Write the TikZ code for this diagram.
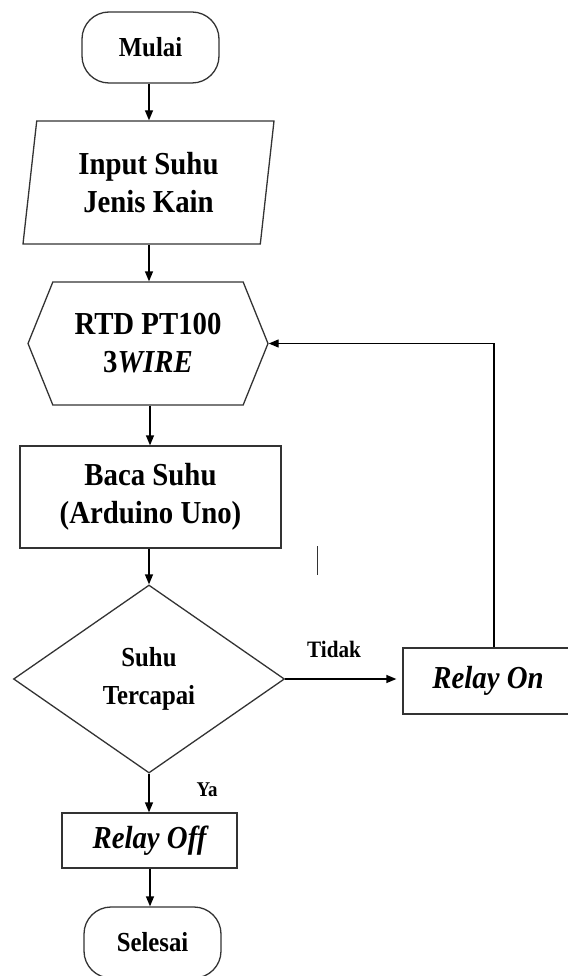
\documentclass[tikz,border=0pt]{standalone}
\usepackage{fontspec}
\setmainfont{Liberation Serif}[FakeStretch=0.9]
\usetikzlibrary{shapes.geometric,shapes.symbols,arrows.meta}

\begin{document}
\begin{tikzpicture}[x=1pt, y=-1pt, line width=1.3pt, >={Triangle[length=10pt,width=8pt]},
  box/.style={draw=black!80, align=center, inner sep=2pt, font=\bfseries\fontsize{32}{38}\selectfont},
  terminal/.style={box, rounded corners=27pt, minimum width=137pt, minimum height=71pt, font=\bfseries\fontsize{27.5}{30}\selectfont},
  iobox/.style={box, trapezium, trapezium left angle=78, trapezium right angle=102, trapezium stretches body, minimum width=251pt, minimum height=123pt},
  prepbox/.style={box, signal, signal to=east and west, signal pointer angle=136, minimum width=240pt, minimum height=123pt},
  process/.style={box, rectangle},
  decision/.style={box, diamond, aspect=1.44, inner sep=0pt, minimum width=271pt, minimum height=188pt, font=\bfseries\fontsize{27.5}{38}\selectfont},
  relay/.style={process, font=\bfseries\itshape\fontsize{32}{34}\selectfont},
  lbl/.style={font=\bfseries\fontsize{23.5}{26}\selectfont}]
  \useasboundingbox (0,0) rectangle (567,976);

  % Flowchart blocks
  \node[terminal] (mulai) at (150.5,47.5) {Mulai};
  \node[iobox] (input) at (148.5,182.5) {Input Suhu\\Jenis Kain};
  \node[prepbox] (rtd) at (148,343.5) {RTD PT100\\3\textit{WIRE}};
  \node[process, minimum width=261pt, minimum height=102pt] (baca) at (150.5,497) {Baca Suhu\\(Arduino Uno)};
  \node[decision] (cek) at (149,679) {Suhu\\Tercapai};
  \node[relay, minimum width=170pt, minimum height=66pt] (relayon) at (488,681) {Relay On};
  \node[relay, minimum width=175pt, minimum height=55pt] (relayoff) at (149.5,840.5) {Relay Off};
  \node[terminal] (selesai) at (152.5,942.5) {Selesai};

  % Branch labels
  \node[lbl] (tidak) at (334,649) {Tidak};
  \node[lbl, font=\bfseries\fontsize{21}{23}\selectfont] (ya) at (207,790) {Ya};

  % Connectors
  \draw[->] (mulai.south -| 149,0) -- (input.north -| 149,0);
  \draw[->] (input.south -| 149,0) -- (rtd.north -| 149,0);
  \draw[->] (rtd.south -| 150,0) -- (baca.north -| 150,0);
  \draw[->] (baca.south -| cek.north) -- (cek.north);
  \draw[->] (cek.south) -- (relayoff.north -| cek.south);
  \draw[->] (relayoff.south -| 150,0) -- (selesai.north -| 150,0);
  \draw[->, shorten >=6pt] (cek.east) -- (relayon.west |- cek.east);
  \draw[->] ([xshift=6pt]relayon.north) |- (rtd.east);

  % stray mark
  \draw[line width=1pt, black!80] (317,546) -- (317,575);
\end{tikzpicture}
\end{document}
